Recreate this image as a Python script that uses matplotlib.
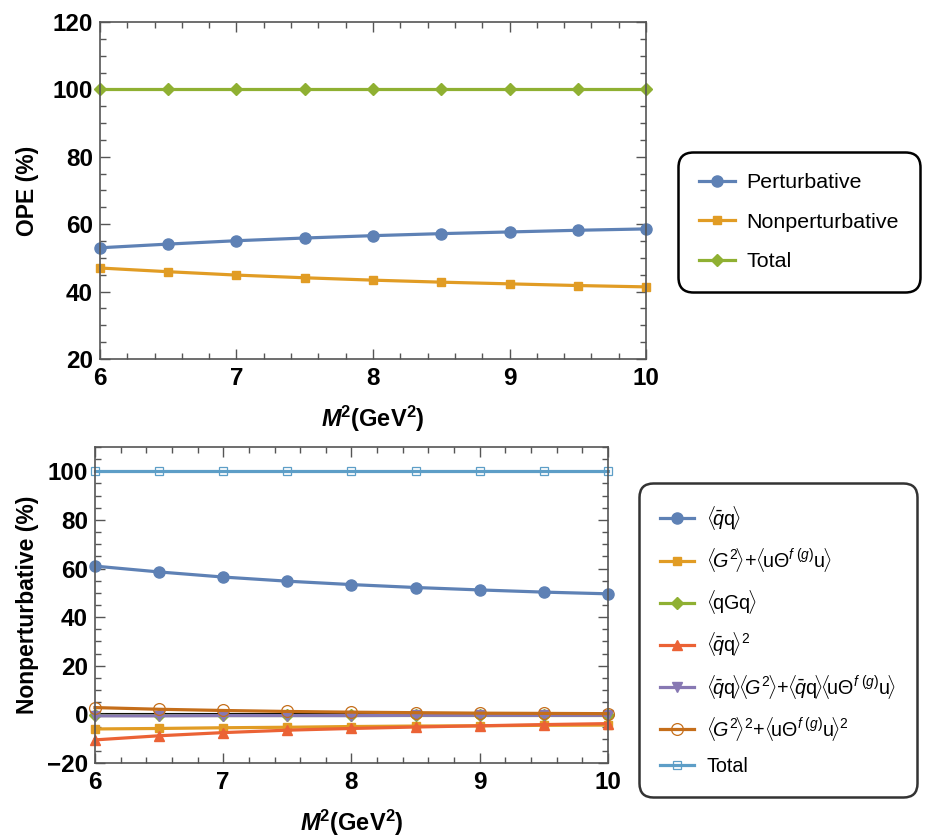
import numpy as np
import matplotlib
matplotlib.use("Agg")
import matplotlib.pyplot as plt

plt.rcParams['font.family'] = ['Liberation Sans', 'DejaVu Sans']
plt.rcParams['mathtext.fontset'] = 'custom'
plt.rcParams['mathtext.rm'] = 'Liberation Sans'
plt.rcParams['mathtext.it'] = 'Liberation Sans:italic'
plt.rcParams['mathtext.bf'] = 'Liberation Sans:bold'
plt.rcParams['mathtext.bfit'] = 'Liberation Sans:bold:italic'

# data
m2 = [6, 6.5, 7, 7.5, 8, 8.5, 9, 9.5, 10]
perturbative = [53.0, 54.1, 55.1, 55.9, 56.6, 57.2, 57.7, 58.2, 58.6]
nonperturbative = [47.0, 45.9, 44.9, 44.1, 43.4, 42.8, 42.3, 41.8, 41.4]
ope_total = [100, 100, 100, 100, 100, 100, 100, 100, 100]

qq = [61.0, 58.6, 56.5, 54.8, 53.4, 52.2, 51.2, 50.3, 49.6]
g2 = [-6.0, -5.8, -5.5, -5.3, -5.0, -4.8, -4.7, -4.5, -4.4]
qgq = [-0.3, -0.3, -0.3, -0.3, -0.3, -0.3, -0.3, -0.3, -0.3]
qq2 = [-10.5, -8.8, -7.5, -6.5, -5.8, -5.2, -4.7, -4.2, -3.8]
qqg2 = [-0.6, -0.6, -0.5, -0.5, -0.5, -0.4, -0.4, -0.4, -0.4]
g2sq = [2.8, 2.1, 1.6, 1.2, 0.9, 0.7, 0.5, 0.4, 0.3]
np_total = [100, 100, 100, 100, 100, 100, 100, 100, 100]

blue = '#5E81B5'
orange = '#E19C24'
green = '#8FB032'
red = '#EB6235'
purple = '#8778B3'
dorange = '#C56E1A'
lblue = '#5D9EC7'

tickfont = {'family': ['Liberation Sans Narrow', 'Liberation Sans'], 'weight': 'bold', 'size': 17.5}


def style_axes(ax):
    ax.set_xlim(6, 10)
    ax.set_xticks([6, 7, 8, 9, 10])
    ax.set_xticks(np.arange(6, 10.01, 0.2), minor=True)
    ax.tick_params(which='both', direction='in', top=True, right=True, width=1.0, color='#555555')
    ax.tick_params(which='major', length=7)
    ax.tick_params(which='minor', length=4)
    ax.tick_params(axis='x', which='major', pad=6)
    ax.tick_params(axis='y', which='major', pad=5)
    for s in ax.spines.values():
        s.set_color('#555555')
        s.set_linewidth(1.2)
    for lab in ax.get_xticklabels() + ax.get_yticklabels():
        lab.set_fontproperties(tickfont)
    ax.set_xlabel(r'$\mathbfit{M}^{\mathbf{2}}$(GeV$^{\mathbf{2}}$)', fontsize=17, fontweight='bold', labelpad=10)


fig = plt.figure(figsize=(9.25, 8.39), dpi=100)

ax1 = fig.add_axes([0.1081, 0.5721, 0.5903, 0.4017])
ax1.plot(m2, perturbative, color=blue, lw=2.3, marker='o', ms=8, label='Perturbative')
ax1.plot(m2, nonperturbative, color=orange, lw=2.3, marker='s', ms=5.5, label='Nonperturbative')
ax1.plot(m2, ope_total, color=green, lw=2.3, marker='D', ms=6, label='Total')
ax1.set_ylim(20, 120)
ax1.set_yticks([20, 40, 60, 80, 100, 120])
ax1.set_yticks(np.arange(20, 121, 5), minor=True)
ax1.set_ylabel('OPE (%)', fontsize=16.5, fontweight='bold', labelpad=10)
style_axes(ax1)
for l in ax1.lines:
    l.set_clip_on(False)

ax2 = fig.add_axes([0.1027, 0.0906, 0.5546, 0.3766])
ax2.axhline(0, color='black', lw=1.5, zorder=1)
ax2.plot(m2, qq, color=blue, lw=2.3, marker='o', ms=8,
         label=r'$\langle\!\bar{q}\mathrm{q}\!\rangle$')
ax2.plot(m2, g2, color=orange, lw=2.3, marker='s', ms=6,
         label=r'$\langle\! G^2\!\rangle$+$\langle\!\mathrm{u}\Theta^{f\ (g)}\mathrm{u}\!\rangle$')
ax2.plot(m2, qgq, color=green, lw=2.3, marker='D', ms=6,
         label=r'$\langle\!\mathrm{qGq}\!\rangle$')
ax2.plot(m2, qq2, color=red, lw=2.3, marker='^', ms=7,
         label=r'$\langle\!\bar{q}\mathrm{q}\!\rangle^2$')
ax2.plot(m2, qqg2, color=purple, lw=2.3, marker='v', ms=7,
         label=r'$\langle\!\bar{q}\mathrm{q}\!\rangle\!\langle\! G^2\!\rangle$+$\langle\!\bar{q}\mathrm{q}\!\rangle\!\langle\!\mathrm{u}\Theta^{f\ (g)}\mathrm{u}\!\rangle$')
ax2.plot(m2, g2sq, color=dorange, lw=2.3, marker='o', ms=8.5, mfc='none', mew=0.9,
         label=r'$\langle\! G^2\!\rangle^2$+$\langle\!\mathrm{u}\Theta^{f\ (g)}\mathrm{u}\!\rangle^2$')
ax2.plot(m2, np_total, color=lblue, lw=2.3, marker='s', ms=6, mfc='none', mew=0.9,
         label='Total')
ax2.set_ylim(-20, 110)
ax2.set_yticks([-20, 0, 20, 40, 60, 80, 100])
ax2.set_yticks(np.arange(-20, 111, 5), minor=True)
ax2.set_ylabel('Nonperturbative (%)', fontsize=16.5, fontweight='bold', labelpad=6)
style_axes(ax2)
for l in ax2.lines:
    l.set_clip_on(False)

leg1 = fig.legend(handles=ax1.get_lines(), loc='upper left', bbox_to_anchor=(0.733, 0.8188),
                  borderaxespad=0, fontsize=15.4, frameon=True, fancybox=True, edgecolor='black',
                  labelspacing=0.95, borderpad=1.0, handlelength=1.65, handletextpad=0.55)
leg1.get_frame().set_linewidth(1.8)
leg1.get_frame().set_alpha(1)
leg1.get_frame().set_boxstyle('round', pad=0, rounding_size=0.7)

leg2 = fig.legend(handles=[l for l in ax2.get_lines()[1:]], loc='upper left', bbox_to_anchor=(0.6908, 0.4243),
                  borderaxespad=0, fontsize=14.2, frameon=True, fancybox=True, edgecolor='black',
                  labelspacing=0.72, borderpad=1.05, handlelength=1.75, handletextpad=0.6)
leg2.get_frame().set_linewidth(1.8)
leg2.get_frame().set_boxstyle('round', pad=0, rounding_size=0.7)

fig.savefig('out.png', dpi=100)
